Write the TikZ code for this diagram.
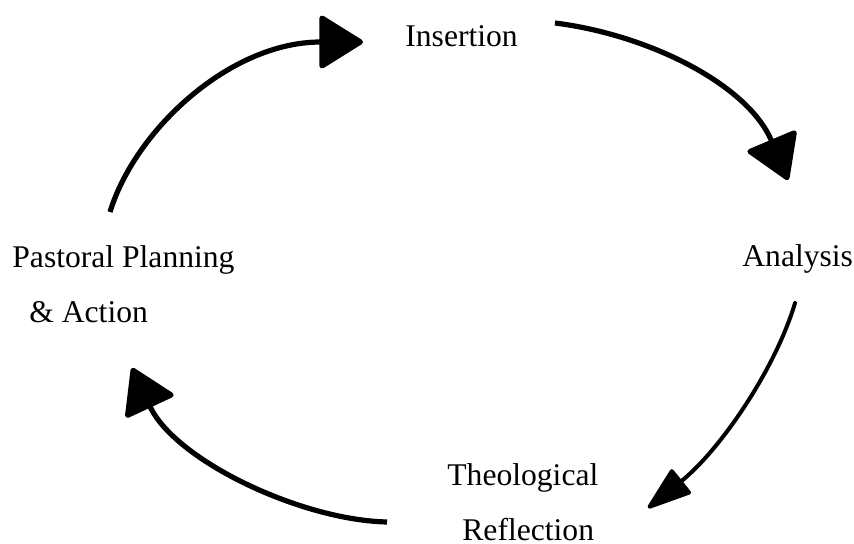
\documentclass[tikz,border=0pt]{standalone}
\usepackage{fontspec}
\setmainfont{Liberation Serif}
\usepackage{tikz}
\usetikzlibrary{arrows.meta,positioning}

\tikzset{
  lbl/.style={inner sep=0pt, anchor=base west, align=left,
    font=\fontsize{15.8pt}{27.5pt}\selectfont},
  cyc/.style={line width=2.6pt, -{Triangle[length=23pt,width=28pt,round]}},
  cycthin/.style={line width=2pt, line cap=round, -{Triangle[length=24pt,width=16pt,round]}},
}

\begin{document}
\begin{tikzpicture}[x=0.5pt,y=-0.5pt]
\useasboundingbox (0,0) rectangle (854,544);
\node[lbl] (ins) at (405,47) {Insertion};
\node[lbl] (ana) at (742,267) {Analysis};
\node[lbl] (thr) at (447,540) {Theological\\\hspace*{7.5pt}Reflection};
\node[lbl] (ppa) at (12,322) {Pastoral Planning\\\hspace*{8.5pt}\& Action};
%----------------------------------
\coordinate (s1) at (110,212);
\coordinate (t1) at (363,42);
\coordinate (s2) at (555,23);
\coordinate (t2) at (788,180);
\coordinate (s3) at (795,303);
\coordinate (t3) at (648,508);
\coordinate (s4) at (387,522);
\coordinate (t4) at (132,368);
%----------------------------------
\draw[cyc] (s1) .. controls (135,130) and (230,42) .. (t1);
\draw[cyc] (s2) .. controls (650,35) and (748,85) .. (t2);
\draw[cycthin] (s3) .. controls (775,370) and (720,450) .. (t3);
\draw[cyc] (s4) .. controls (300,520) and (175,460) .. (t4);
\end{tikzpicture}
\end{document}
